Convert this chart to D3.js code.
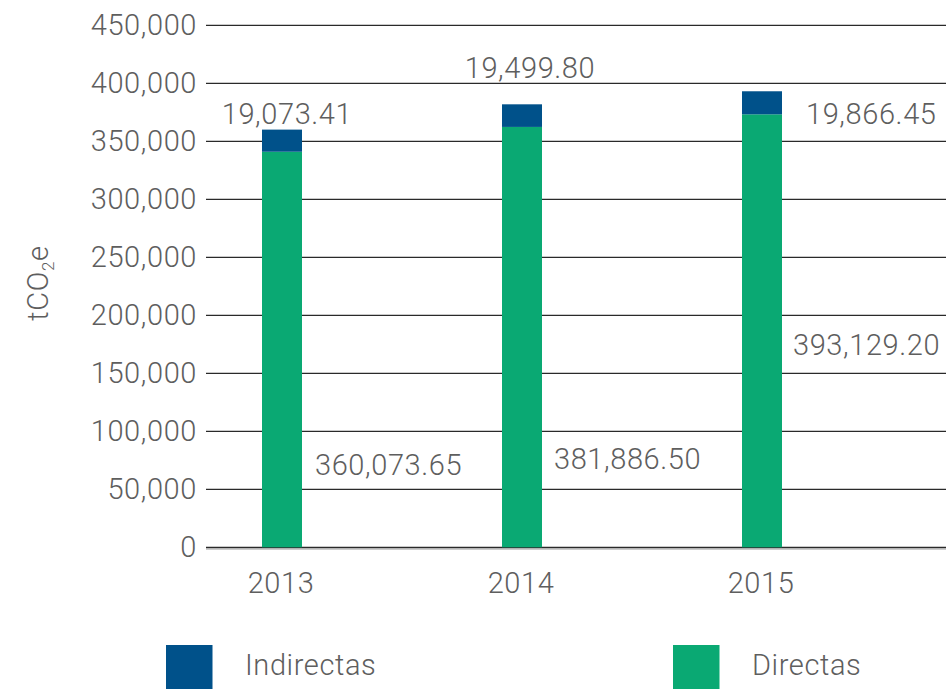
<!DOCTYPE html>
<html>
<head>
<meta charset="utf-8">
<script src="https://cdn.jsdelivr.net/npm/d3@7"></script>
<style>
  html, body { margin: 0; padding: 0; background: #fff; }
  svg { display: block; }
  text { font-family: Roboto, "Helvetica Neue", Helvetica, Arial, sans-serif; font-weight: 300; fill: #5e5e5e; letter-spacing: 0.6px; }
</style>
</head>
<body>
<svg id="chart" width="946" height="689"></svg>
<script>
// Emisiones de GEI (tCO2e) por año
const years = ["2013", "2014", "2015"];
const totales = [360073.65, 381886.50, 393129.20];   // total (Directas + Indirectas)
const indirectas = [19073.41, 19499.80, 19866.45];
const yTicks = [0, 50000, 100000, 150000, 200000, 250000, 300000, 350000, 400000, 450000];
const seriesNames = ["Indirectas", "Directas"];

const colors = { Indirectas: "#00518a", Directas: "#0aa973" };

// label placement relative to each bar (pixels)
const indLabelPos = [
  { dx: 5, y: 124, anchor: "middle", ref: "center" },
  { dx: 8, y: 78, anchor: "middle", ref: "center" },
  { dx: 24, y: 124, anchor: "start", ref: "right" }
];
const totLabelPos = [
  { dx: 13, y: 475 },
  { dx: 12, y: 469 },
  { dx: 11, y: 355 }
];

const svg = d3.select("#chart");
const fontSize = 29;

const x = d3.scaleBand()
  .domain(years)
  .range([162, 882])
  .paddingInner(5 / 6)
  .paddingOuter(5 / 12);

const y = d3.scaleLinear()
  .domain([0, 450000])
  .range([547.3, 25.3]);

const fmt = d3.format(",");
const fmt2 = d3.format(",.2f");

// gridlines
const grid = svg.append("g");
grid.selectAll("line")
  .data(yTicks)
  .join("line")
  .attr("x1", 206)
  .attr("x2", 946)
  .attr("y1", d => y(d))
  .attr("y2", d => y(d))
  .attr("stroke", "#2a2a2a")
  .attr("stroke-width", 1.3);

// baseline shadow
svg.append("line")
  .attr("x1", 206).attr("x2", 946)
  .attr("y1", y(0) + 1.6).attr("y2", y(0) + 1.6)
  .attr("stroke", "#9a9a9a").attr("stroke-width", 1.2);

// y tick labels
svg.append("g").selectAll("text")
  .data(yTicks)
  .join("text")
  .attr("x", 197)
  .attr("y", d => y(d))
  .attr("dy", "0.35em")
  .attr("text-anchor", "end")
  .attr("font-size", fontSize)
  .text(d => fmt(d));

// y axis title: tCO2e
const yTitle = svg.append("text")
  .attr("transform", "translate(48,283) rotate(-90)")
  .attr("text-anchor", "middle")
  .attr("font-size", fontSize);
yTitle.append("tspan").text("tCO");
yTitle.append("tspan").attr("font-size", 17).attr("dy", 6).text("2");
yTitle.append("tspan").attr("dy", -6).text("e");

// stacked bars
const data = years.map((yr, i) => ({ year: yr, total: totales[i], ind: indirectas[i] }));
const bars = svg.append("g");

bars.selectAll("rect.dir")
  .data(data)
  .join("rect")
  .attr("class", "dir")
  .attr("x", d => x(d.year))
  .attr("width", x.bandwidth())
  .attr("y", d => y(d.total - d.ind))
  .attr("height", d => y(0) - y(d.total - d.ind))
  .attr("fill", colors.Directas);

bars.selectAll("rect.ind")
  .data(data)
  .join("rect")
  .attr("class", "ind")
  .attr("x", d => x(d.year))
  .attr("width", x.bandwidth())
  .attr("y", d => y(d.total))
  .attr("height", d => y(d.total - d.ind) - y(d.total))
  .attr("fill", colors.Indirectas);

// value labels
svg.append("g").selectAll("text")
  .data(data)
  .join("text")
  .attr("x", (d, i) => {
    const p = indLabelPos[i];
    const base = p.ref === "right" ? x(d.year) + x.bandwidth() : x(d.year) + x.bandwidth() / 2;
    return base + p.dx;
  })
  .attr("y", (d, i) => indLabelPos[i].y)
  .attr("text-anchor", (d, i) => indLabelPos[i].anchor)
  .attr("font-size", fontSize)
  .text(d => fmt2(d.ind));

svg.append("g").selectAll("text")
  .data(data)
  .join("text")
  .attr("x", (d, i) => x(d.year) + x.bandwidth() + totLabelPos[i].dx)
  .attr("y", (d, i) => totLabelPos[i].y)
  .attr("text-anchor", "start")
  .attr("font-size", fontSize)
  .text(d => fmt2(d.total));

// x labels
svg.append("g").selectAll("text")
  .data(years)
  .join("text")
  .attr("x", d => x(d) + x.bandwidth() / 2 - 1)
  .attr("y", 593)
  .attr("text-anchor", "middle")
  .attr("font-size", fontSize)
  .text(d => d);

// legend
const legendX = [166, 673];
const legend = svg.append("g").selectAll("g")
  .data(seriesNames)
  .join("g")
  .attr("transform", (d, i) => `translate(${legendX[i]},645)`);
legend.append("rect")
  .attr("width", 46.5)
  .attr("height", 46)
  .attr("fill", d => colors[d]);
legend.append("text")
  .attr("x", 79)
  .attr("y", 30)
  .attr("font-size", fontSize)
  .text(d => d);
</script>
</body>
</html>
